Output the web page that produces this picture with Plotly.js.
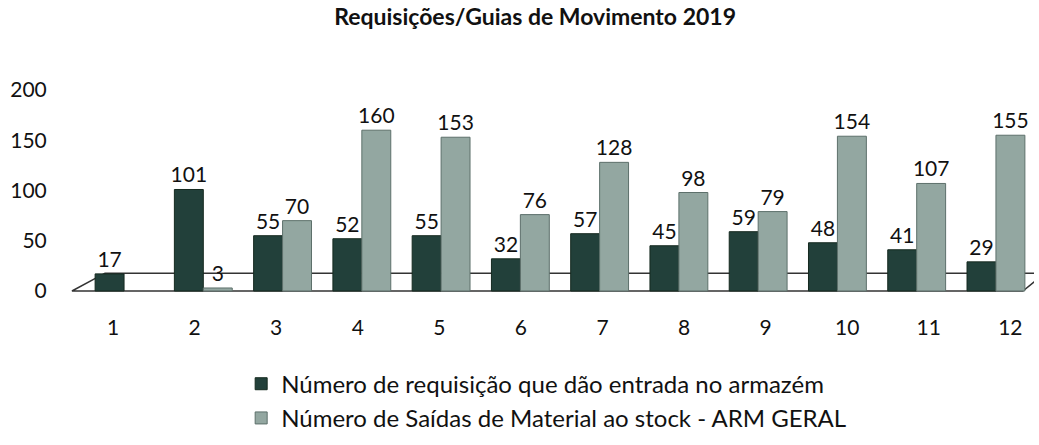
<!DOCTYPE html>
<html>
<head>
<meta charset="utf-8">
<script src="https://cdn.plot.ly/plotly-3.0.1.min.js"></script>
<style>html,body{margin:0;padding:0;background:#fff;}#chart{width:1039px;height:445px;}</style>
</head>
<body>
<div id="chart"></div>
<script>
var months = [1,2,3,4,5,6,7,8,9,10,11,12];
var monthLabels = ["1","2","3","4","5","6","7","8","9","10","11","12"];
var entradas = [17,101,55,52,55,32,57,45,59,48,41,29];
var saidas = [null,3,70,160,153,76,128,98,79,154,107,155];
var seriesNames = ["Número de requisição que dão entrada no armazém","Número de Saídas de Material ao stock - ARM GERAL"];
var titleText = "Requisições/Guias de Movimento 2019";

var fontFam = "Lato, 'Open Sans', sans-serif";
var traces = [
  {type:'bar', x:months, y:entradas, name:seriesNames[0],
   marker:{color:'#22403a', line:{color:'#15291f', width:1}},
   text:entradas.map(String), textposition:'outside', cliponaxis:false, constraintext:'none',
   textfont:{family:fontFam, size:21, color:'#111'}},
  {type:'bar', x:months, y:saidas, name:seriesNames[1],
   marker:{color:'#93a7a1', line:{color:'#5d706b', width:1}},
   text:saidas.map(function(v){return v==null?'':String(v);}), textposition:'outside', cliponaxis:false, constraintext:'none',
   textfont:{family:fontFam, size:21, color:'#111'}},
  {type:'scatter', mode:'markers', x:months, y:entradas, xaxis:'x2', yaxis:'y',
   marker:{opacity:0, size:1}, showlegend:false, hoverinfo:'skip'}
];
var layout = {
  width:1039, height:445,
  margin:{l:60, r:5, t:90, b:148},
  paper_bgcolor:'#fff', plot_bgcolor:'rgba(0,0,0,0)',
  title:{text:'<b>'+titleText+'</b>', x:0.515, xanchor:'center', y:0.962, yanchor:'middle',
         font:{family:fontFam, size:23, color:'#111'}},
  barmode:'group', bargap:0.27, bargroupgap:0,
  xaxis:{type:'linear', range:[0.192,12.48], tickvals:months, showticklabels:false,
         showgrid:false, zeroline:false, showline:false, ticks:''},
  xaxis2:{type:'linear', overlaying:'x', anchor:'y', side:'bottom', range:[0.35,12.29],
         tickvals:months, ticktext:monthLabels,
         showgrid:false, zeroline:false, showline:false,
         ticks:'outside', ticklen:14, tickcolor:'rgba(0,0,0,0)',
         tickfont:{family:fontFam, size:21, color:'#111'}},
  yaxis:{range:[-4,200], tickvals:[0,50,100,150,200], showgrid:false, zeroline:false, showline:false,
         ticks:'outside', ticklen:8, tickcolor:'rgba(0,0,0,0)',
         tickfont:{family:fontFam, size:21, color:'#111'}},
  showlegend:true,
  legend:{orientation:'v', x:0.186, xanchor:'left', y:-0.325, yanchor:'top',
          font:{family:fontFam, size:24, color:'#111'}, tracegroupgap:16, itemwidth:30},
  shapes:[
    {type:'path', xref:'x', yref:'y', layer:'below',
     path:'M 0.343,0 L 0.76,17.7 L 12.62,17.7 L 12.34,0 Z',
     line:{color:'#333', width:1.5}, fillcolor:'rgba(0,0,0,0)'}
  ]
};
Plotly.newPlot('chart', traces, layout, {displayModeBar:false, staticPlot:true});
</script>
</body>
</html>
